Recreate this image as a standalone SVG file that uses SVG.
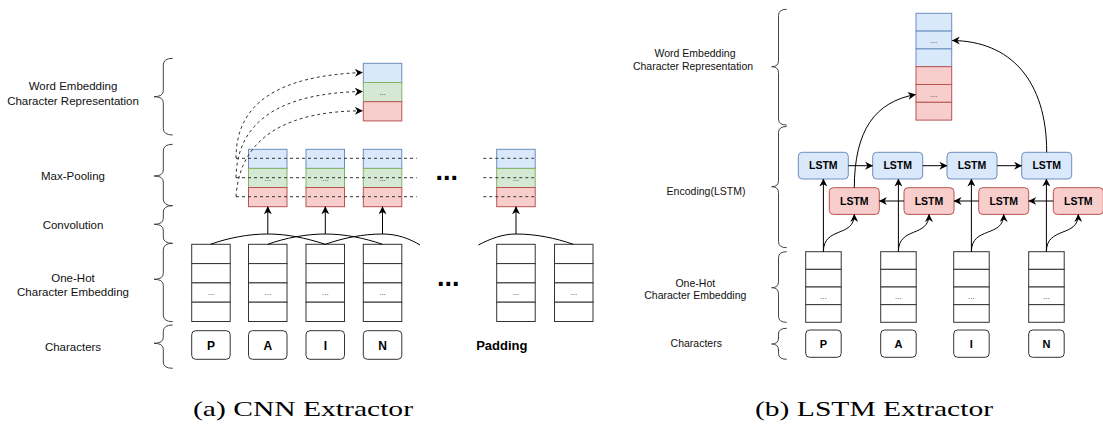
<svg xmlns="http://www.w3.org/2000/svg" width="1103" height="425" viewBox="0 0 1103 425">
<style>
.lbl{font-family:"Liberation Sans",Arial,sans-serif;font-size:11.5px;fill:#111;text-anchor:middle}
.lblr{font-family:"Liberation Sans",Arial,sans-serif;font-size:10.5px;fill:#111;text-anchor:middle}
.ch{font-family:"Liberation Sans",Arial,sans-serif;font-weight:bold;font-size:12px;fill:#000;text-anchor:middle}
.chr{font-family:"Liberation Sans",Arial,sans-serif;font-weight:bold;font-size:11px;fill:#000;text-anchor:middle}
.dots{font-family:"Liberation Sans",Arial,sans-serif;font-size:8px;fill:#333;text-anchor:middle}
.big{font-family:"Liberation Sans",Arial,sans-serif;font-weight:bold;font-size:27px;fill:#000}
.lstm{font-family:"Liberation Sans",Arial,sans-serif;font-weight:bold;font-size:10.5px;fill:#000;text-anchor:middle}
.cap{font-family:"Liberation Serif","Times New Roman",serif;font-size:22px;fill:#000}
.brace{fill:none;stroke:#444;stroke-width:1}
.cell{fill:#fff;stroke:#333;stroke-width:1}
.b{fill:#dae8fc;stroke:#6c8ebf;stroke-width:1}
.g{fill:#d5e8d4;stroke:#82b366;stroke-width:1}
.r{fill:#f8cecc;stroke:#b85450;stroke-width:1}
.edge{fill:none;stroke:#000;stroke-width:1}
.dash{fill:none;stroke:#333;stroke-width:1;stroke-dasharray:3,3}
</style>
<defs>
<marker id="arr" viewBox="0 0 10 10" refX="9.5" refY="5" markerWidth="8" markerHeight="8" markerUnits="userSpaceOnUse" orient="auto">
<path d="M0,0 L10,5 L0,10 L3,5 z" fill="#000"/>
</marker>
</defs>
<rect width="1103" height="425" fill="#fff"/>

<!-- Left panel labels and braces -->
<g id="left-labels">
<text class="lbl" x="73" y="90">Word Embedding</text>
<text class="lbl" x="73" y="104.5">Character Representation</text>
<text class="lbl" x="73" y="180">Max-Pooling</text>
<text class="lbl" x="73" y="228.5">Convolution</text>
<text class="lbl" x="73" y="281.5">One-Hot</text>
<text class="lbl" x="73" y="295.5">Character Embedding</text>
<text class="lbl" x="73" y="350.5">Characters</text>
<path class="brace" d="M172.7,58.3 Q163.3,58.3 163.3,65 L163.3,90.7 Q163.3,96.7 154,96.7 Q163.3,96.7 163.3,102.7 L163.3,128.3 Q163.3,135 172.7,135"/>
<path class="brace" d="M172.7,144.3 Q163.3,144.3 163.3,151 L163.3,170 Q163.3,176 154,176 Q163.3,176 163.3,182 L163.3,199 Q163.3,205.7 172.7,205.7"/>
<path class="brace" d="M172.7,205.7 Q163.3,205.7 163.3,212 L163.3,218.3 Q163.3,224.3 154,224.3 Q163.3,224.3 163.3,230.3 L163.3,237 Q163.3,243.3 172.7,243.3"/>
<path class="brace" d="M172.7,243.3 Q163.3,243.3 163.3,250 L163.3,273.3 Q163.3,279.3 154,279.3 Q163.3,279.3 163.3,285.3 L163.3,315 Q163.3,321.7 172.7,321.7"/>
<path class="brace" d="M172.7,325 Q163.3,325 163.3,331.5 L163.3,337.3 Q163.3,343.3 154,343.3 Q163.3,343.3 163.3,349.3 L163.3,362 Q163.3,368.3 172.7,368.3"/>
</g>

<!-- Left: word embedding output -->
<g id="cnn-word-emb">
<rect class="b" x="363.3" y="63.3" width="38.5" height="19.2"/>
<rect class="g" x="363.3" y="82.5" width="38.5" height="19.2"/>
<rect class="r" x="363.3" y="101.7" width="38.5" height="19.2"/>
<text class="dots" x="382.5" y="95">...</text>
</g>

<!-- Left: max-pooling stacks -->
<g id="cnn-pool-1">
<rect class="b" x="248.5" y="149.3" width="38.5" height="19.1"/>
<rect class="g" x="248.5" y="168.4" width="38.5" height="19.1"/>
<rect class="r" x="248.5" y="187.5" width="38.5" height="19.2"/>
<text class="dots" x="267.8" y="181">...</text>
</g>
<g id="cnn-pool-2">
<rect class="b" x="306" y="149.3" width="38.5" height="19.1"/>
<rect class="g" x="306" y="168.4" width="38.5" height="19.1"/>
<rect class="r" x="306" y="187.5" width="38.5" height="19.2"/>
<text class="dots" x="325.3" y="181">...</text>
</g>
<g id="cnn-pool-3">
<rect class="b" x="363.3" y="149.3" width="38.5" height="19.1"/>
<rect class="g" x="363.3" y="168.4" width="38.5" height="19.1"/>
<rect class="r" x="363.3" y="187.5" width="38.5" height="19.2"/>
<text class="dots" x="382.5" y="181">...</text>
</g>
<g id="cnn-pool-4">
<rect class="b" x="496.7" y="149.3" width="38.5" height="19.1"/>
<rect class="g" x="496.7" y="168.4" width="38.5" height="19.1"/>
<rect class="r" x="496.7" y="187.5" width="38.5" height="19.2"/>
<text class="dots" x="516" y="181">...</text>
</g>

<!-- Left: one-hot columns -->
<g id="cnn-onehot-P">
<rect class="cell" x="191.7" y="244.3" width="38.5" height="19.3"/><rect class="cell" x="191.7" y="263.6" width="38.5" height="19.3"/><rect class="cell" x="191.7" y="282.9" width="38.5" height="19.3"/><rect class="cell" x="191.7" y="302.2" width="38.5" height="19.3"/>
<text class="dots" x="211" y="295">...</text>
</g>
<g id="cnn-onehot-A">
<rect class="cell" x="248.5" y="244.3" width="38.5" height="19.3"/><rect class="cell" x="248.5" y="263.6" width="38.5" height="19.3"/><rect class="cell" x="248.5" y="282.9" width="38.5" height="19.3"/><rect class="cell" x="248.5" y="302.2" width="38.5" height="19.3"/>
<text class="dots" x="267.8" y="295">...</text>
</g>
<g id="cnn-onehot-I">
<rect class="cell" x="306" y="244.3" width="38.5" height="19.3"/><rect class="cell" x="306" y="263.6" width="38.5" height="19.3"/><rect class="cell" x="306" y="282.9" width="38.5" height="19.3"/><rect class="cell" x="306" y="302.2" width="38.5" height="19.3"/>
<text class="dots" x="325.3" y="295">...</text>
</g>
<g id="cnn-onehot-N">
<rect class="cell" x="363.3" y="244.3" width="38.5" height="19.3"/><rect class="cell" x="363.3" y="263.6" width="38.5" height="19.3"/><rect class="cell" x="363.3" y="282.9" width="38.5" height="19.3"/><rect class="cell" x="363.3" y="302.2" width="38.5" height="19.3"/>
<text class="dots" x="382.5" y="295">...</text>
</g>
<g id="cnn-onehot-5">
<rect class="cell" x="496.7" y="244.3" width="38.5" height="19.3"/><rect class="cell" x="496.7" y="263.6" width="38.5" height="19.3"/><rect class="cell" x="496.7" y="282.9" width="38.5" height="19.3"/><rect class="cell" x="496.7" y="302.2" width="38.5" height="19.3"/>
<text class="dots" x="516" y="295">...</text>
</g>
<g id="cnn-onehot-6">
<rect class="cell" x="554.5" y="244.3" width="38.5" height="19.3"/><rect class="cell" x="554.5" y="263.6" width="38.5" height="19.3"/><rect class="cell" x="554.5" y="282.9" width="38.5" height="19.3"/><rect class="cell" x="554.5" y="302.2" width="38.5" height="19.3"/>
<text class="dots" x="573.8" y="295">...</text>
</g>

<!-- Left: characters -->
<g id="cnn-char-P"><rect class="cell" x="191.7" y="330.7" width="38.5" height="28.6" rx="4"/><text class="ch" x="211" y="349.5">P</text></g>
<g id="cnn-char-A"><rect class="cell" x="248.5" y="330.7" width="38.5" height="28.6" rx="4"/><text class="ch" x="267.8" y="349.5">A</text></g>
<g id="cnn-char-I"><rect class="cell" x="306" y="330.7" width="38.5" height="28.6" rx="4"/><text class="ch" x="325.3" y="349.5">I</text></g>
<g id="cnn-char-N"><rect class="cell" x="363.3" y="330.7" width="38.5" height="28.6" rx="4"/><text class="ch" x="382.5" y="349.5">N</text></g>
<g id="cnn-padding"><text x="501.8" y="349.8" font-family="Liberation Sans, Arial, sans-serif" font-weight="bold" font-size="13px" text-anchor="middle">Padding</text></g>
<g id="cnn-ellipsis">
<text class="big" x="435.5" y="180">...</text>
<text class="big" x="437" y="285.8">...</text>
</g>

<!-- Left connectors -->
<g id="cnn-connectors">
<path class="dash" d="M236,158.3 L416.7,158.3 M236,177.7 L416.7,177.7 M236,196.7 L416.7,196.7"/>
<path class="dash" d="M483.3,158.3 L534,158.3 M483.3,177.7 L534,177.7 M483.3,196.7 L534,196.7"/>
<path class="dash" d="M236,158.3 C236,105 275,76 362.5,72.5" marker-end="url(#arr)"/>
<path class="dash" d="M236,177.7 C237,120 282,93 362.5,91.5" marker-end="url(#arr)"/>
<path class="dash" d="M236,196.7 C240,135 290,111 362.5,110.8" marker-end="url(#arr)"/>
<path class="edge" d="M210.5,244.3 C228,238 248,234 267.8,234 C287,234 306,238 325.3,244.3"/>
<path class="edge" d="M267.8,244.3 C285,238 306,234 325.3,234 C345,234 364,238 382.5,244.3"/>
<path class="edge" d="M325.3,244.3 C343,238 363,234 382.5,234 C398,234 410,239 420,245"/>
<path class="edge" d="M478.3,245 C490,239 502,234 516,234 C536,234 555,238 573.3,244.3"/>
<path class="edge" d="M267.8,234 L267.8,206.7" marker-end="url(#arr)"/>
<path class="edge" d="M325.3,234 L325.3,206.7" marker-end="url(#arr)"/>
<path class="edge" d="M382.5,234 L382.5,206.7" marker-end="url(#arr)"/>
<path class="edge" d="M516,234 L516,206.7" marker-end="url(#arr)"/>
</g>

<!-- Right panel labels and braces -->
<g id="right-labels">
<text class="lblr" x="695" y="56.5">Word Embedding</text>
<text class="lblr" x="693" y="69.5">Character Representation</text>
<text class="lblr" x="706" y="194.5">Encoding(LSTM)</text>
<text class="lblr" x="695.3" y="286.5">One-Hot</text>
<text class="lblr" x="695.3" y="299">Character Embedding</text>
<text class="lblr" x="696.3" y="347">Characters</text>
<path class="brace" d="M786.7,9.3 Q778.5,9.3 778.5,15.5 L778.5,60.7 Q778.5,66.7 771.7,66.7 Q778.5,66.7 778.5,72.7 L778.5,119 Q778.5,125 786.7,125"/>
<path class="brace" d="M786.7,126.5 Q778.5,126.5 778.5,132.5 L778.5,180.7 Q778.5,186.7 771.7,186.7 Q778.5,186.7 778.5,192.7 L778.5,241.7 Q778.5,247.7 786.7,247.7"/>
<path class="brace" d="M786.7,251.7 Q778.5,251.7 778.5,257.7 L778.5,281.7 Q778.5,287.7 771.7,287.7 Q778.5,287.7 778.5,293.7 L778.5,316.3 Q778.5,322.3 786.7,322.3"/>
<path class="brace" d="M786.7,328.3 Q778.5,328.3 778.5,334 L778.5,338 Q778.5,344 771.7,344 Q778.5,344 778.5,350 L778.5,353.5 Q778.5,359.3 786.7,359.3"/>
</g>

<!-- Right: word embedding -->
<g id="lstm-word-emb">
<rect class="b" x="916" y="13.3" width="35.7" height="17.8"/>
<rect class="b" x="916" y="31.1" width="35.7" height="17.8"/>
<rect class="b" x="916" y="48.9" width="35.7" height="17.8"/>
<rect class="r" x="916" y="66.7" width="35.7" height="17.8"/>
<rect class="r" x="916" y="84.5" width="35.7" height="17.8"/>
<rect class="r" x="916" y="102.3" width="35.7" height="17.8"/>
<text class="dots" x="933.8" y="43">...</text>
<text class="dots" x="933.8" y="96.5">...</text>
</g>

<!-- Right: LSTM cells -->
<g id="lstm-f1"><rect class="b" x="798.3" y="152.3" width="50" height="26.7" rx="4"/><text class="lstm" x="823.3" y="169.3">LSTM</text></g>
<g id="lstm-f2"><rect class="b" x="872.7" y="152.3" width="50" height="26.7" rx="4"/><text class="lstm" x="897.7" y="169.3">LSTM</text></g>
<g id="lstm-f3"><rect class="b" x="947" y="152.3" width="50" height="26.7" rx="4"/><text class="lstm" x="972" y="169.3">LSTM</text></g>
<g id="lstm-f4"><rect class="b" x="1021.7" y="152.3" width="50" height="26.7" rx="4"/><text class="lstm" x="1046.7" y="169.3">LSTM</text></g>
<g id="lstm-b1"><rect class="r" x="829.3" y="187.7" width="50" height="26.7" rx="4"/><text class="lstm" x="854.3" y="204.7">LSTM</text></g>
<g id="lstm-b2"><rect class="r" x="904" y="187.7" width="50" height="26.7" rx="4"/><text class="lstm" x="929" y="204.7">LSTM</text></g>
<g id="lstm-b3"><rect class="r" x="978.7" y="187.7" width="50" height="26.7" rx="4"/><text class="lstm" x="1003.7" y="204.7">LSTM</text></g>
<g id="lstm-b4"><rect class="r" x="1053.3" y="187.7" width="50" height="26.7" rx="4"/><text class="lstm" x="1078.3" y="204.7">LSTM</text></g>

<!-- Right: one-hot -->
<g id="lstm-onehot-P">
<rect class="cell" x="805.7" y="251.7" width="35.5" height="17.65"/><rect class="cell" x="805.7" y="269.35" width="35.5" height="17.65"/><rect class="cell" x="805.7" y="287" width="35.5" height="17.65"/><rect class="cell" x="805.7" y="304.65" width="35.5" height="17.65"/>
<text class="dots" x="823.4" y="299">...</text>
</g>
<g id="lstm-onehot-A">
<rect class="cell" x="880.7" y="251.7" width="35.5" height="17.65"/><rect class="cell" x="880.7" y="269.35" width="35.5" height="17.65"/><rect class="cell" x="880.7" y="287" width="35.5" height="17.65"/><rect class="cell" x="880.7" y="304.65" width="35.5" height="17.65"/>
<text class="dots" x="898.4" y="299">...</text>
</g>
<g id="lstm-onehot-I">
<rect class="cell" x="953.7" y="251.7" width="35.5" height="17.65"/><rect class="cell" x="953.7" y="269.35" width="35.5" height="17.65"/><rect class="cell" x="953.7" y="287" width="35.5" height="17.65"/><rect class="cell" x="953.7" y="304.65" width="35.5" height="17.65"/>
<text class="dots" x="971.4" y="299">...</text>
</g>
<g id="lstm-onehot-N">
<rect class="cell" x="1028.7" y="251.7" width="35.5" height="17.65"/><rect class="cell" x="1028.7" y="269.35" width="35.5" height="17.65"/><rect class="cell" x="1028.7" y="287" width="35.5" height="17.65"/><rect class="cell" x="1028.7" y="304.65" width="35.5" height="17.65"/>
<text class="dots" x="1046.4" y="299">...</text>
</g>

<!-- Right: characters -->
<g id="lstm-char-P"><rect class="cell" x="805.7" y="330" width="35.5" height="27.3" rx="4"/><text class="chr" x="823.4" y="347.8">P</text></g>
<g id="lstm-char-A"><rect class="cell" x="880.7" y="330" width="35.5" height="27.3" rx="4"/><text class="chr" x="898.4" y="347.8">A</text></g>
<g id="lstm-char-I"><rect class="cell" x="953.7" y="330" width="35.5" height="27.3" rx="4"/><text class="chr" x="971.4" y="347.8">I</text></g>
<g id="lstm-char-N"><rect class="cell" x="1028.7" y="330" width="35.5" height="27.3" rx="4"/><text class="chr" x="1046.4" y="347.8">N</text></g>

<!-- Right connectors -->
<g id="lstm-connectors">
<path class="edge" d="M848.3,165.7 L872.7,165.7" marker-end="url(#arr)"/>
<path class="edge" d="M922.7,165.7 L947,165.7" marker-end="url(#arr)"/>
<path class="edge" d="M997,165.7 L1021.7,165.7" marker-end="url(#arr)"/>
<path class="edge" d="M904,201 L879.3,201" marker-end="url(#arr)"/>
<path class="edge" d="M978.7,201 L954,201" marker-end="url(#arr)"/>
<path class="edge" d="M1053.3,201 L1028.7,201" marker-end="url(#arr)"/>
<path class="edge" d="M823.4,251.7 L823.4,179" marker-end="url(#arr)"/>
<path class="edge" d="M898.4,251.7 L898.4,179" marker-end="url(#arr)"/>
<path class="edge" d="M971.4,251.7 L971.4,179" marker-end="url(#arr)"/>
<path class="edge" d="M1046.4,251.7 L1046.4,179" marker-end="url(#arr)"/>
<path class="edge" d="M823.4,251.7 C823.4,226 854.3,238 854.3,214.4" marker-end="url(#arr)"/>
<path class="edge" d="M898.4,251.7 C898.4,226 929,238 929,214.4" marker-end="url(#arr)"/>
<path class="edge" d="M971.4,251.7 C971.4,226 1003.7,238 1003.7,214.4" marker-end="url(#arr)"/>
<path class="edge" d="M1046.4,251.7 C1046.4,226 1078.3,238 1078.3,214.4" marker-end="url(#arr)"/>
<path class="edge" d="M854.3,187.7 C854.5,130 875,102 915.5,94.5" marker-end="url(#arr)"/>
<path class="edge" d="M1046.7,152.3 C1046.7,80 1010,41 952.2,40.5" marker-end="url(#arr)"/>
</g>

<!-- Captions -->
<g id="captions">
<text class="cap" x="193" y="416" textLength="220" lengthAdjust="spacingAndGlyphs">(a) CNN Extractor</text>
<text class="cap" x="755" y="416" textLength="238" lengthAdjust="spacingAndGlyphs">(b) LSTM Extractor</text>
</g>
</svg>
